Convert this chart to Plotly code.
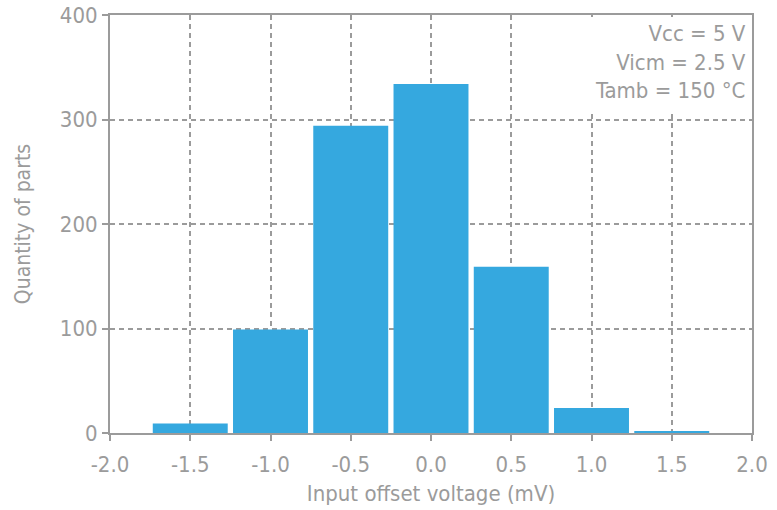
import plotly.graph_objects as go

bin_centers = [-1.5, -1.0, -0.5, 0.0, 0.5, 1.0, 1.5]
quantities = [9, 99, 294, 334, 159, 24, 2]
x_ticks = [-2.0, -1.5, -1.0, -0.5, 0.0, 0.5, 1.0, 1.5, 2.0]
y_ticks = [0, 100, 200, 300, 400]
conditions = ["Vcc = 5 V", "Vicm = 2.5 V", "Tamb = 150 °C"]

FONT = "DejaVu Sans Condensed, DejaVu Sans, sans-serif"
GRAY = "#9b9b9b"

fig = go.Figure()
fig.add_trace(go.Bar(
    x=bin_centers, y=quantities, width=0.467,
    marker=dict(color="#35a8df", line=dict(width=0)),
))

fig.update_layout(
    width=777, height=510,
    margin=dict(l=110, r=25, t=15, b=77),
    plot_bgcolor="white", paper_bgcolor="white",
    showlegend=False,
    font=dict(family=FONT, color=GRAY, size=21),
    xaxis=dict(
        range=[-2.0, 2.0], tickvals=x_ticks, ticktext=[f"{v:.1f}" for v in x_ticks],
        showline=True, linecolor=GRAY, linewidth=2, mirror=True,
        ticks="outside", ticklen=6, tickwidth=2, tickcolor=GRAY,
        showgrid=True, gridcolor=GRAY, gridwidth=2, griddash="5px,4px",
        zeroline=False, automargin=False, ticklabelstandoff=5,
        title=dict(text="Input offset voltage (mV)", font=dict(size=22), standoff=9),
        tickfont=dict(size=22),
    ),
    yaxis=dict(
        range=[0, 400], tickvals=y_ticks,
        showline=True, linecolor=GRAY, linewidth=2, mirror=True,
        ticks="outside", ticklen=6, tickwidth=2, tickcolor=GRAY,
        showgrid=True, gridcolor=GRAY, gridwidth=2, griddash="5px,4px",
        zeroline=False, automargin=False,
        title=dict(text="Quantity of parts", font=dict(size=21), standoff=23),
        tickfont=dict(size=22),
    ),
)

fig.add_shape(
    type="rect", xref="paper", yref="paper",
    x0=0.74, x1=1 - 2 / 642, y0=0.773, y1=1 - 2 / 418,
    fillcolor="white", line=dict(width=0), layer="above",
)

fig.add_annotation(
    xref="paper", yref="paper", x=1, y=1, xanchor="right", yanchor="top",
    text="<br>".join(conditions), align="right", showarrow=False,
    borderpad=6, xshift=1, yshift=1,
    font=dict(size=22, color=GRAY, family=FONT),
)

fig.write_html("out.html", config={"displayModeBar": False},
               post_script="document.body.style.margin='0';")
